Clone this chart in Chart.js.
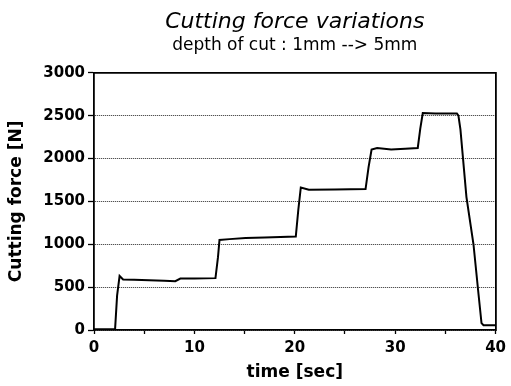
<!DOCTYPE html>
<html>
<head>
<meta charset="utf-8">
<script src="https://cdn.jsdelivr.net/npm/chart.js@4.4.1/dist/chart.umd.min.js"></script>
<style>
  html, body { margin: 0; padding: 0; background: #fff; }
  #wrap { width: 511px; height: 386px; }
</style>
</head>
<body>
<div id="wrap"><canvas id="forceChart" width="511" height="386"></canvas></div>
<script>
// values
const timeSec = [0, 1, 2.1, 2.3, 2.55, 2.9, 4, 5.5, 7, 8.1, 8.6, 10, 12.1, 12.35, 12.5, 13.5, 15.1, 17, 20.1, 20.35, 20.6, 21.4, 24, 27.05, 27.35, 27.65, 28.2, 29.6, 31, 32.25, 32.5, 32.75, 34, 35, 36.15, 36.3, 36.5, 37.1, 37.8, 38.3, 38.6, 38.8, 40];
const forceN = [10, 10, 10, 400, 630, 590, 585, 580, 575, 570, 600, 600, 605, 850, 1050, 1060, 1072, 1080, 1090, 1400, 1663, 1636, 1640, 1644, 1900, 2104, 2123, 2104, 2115, 2123, 2350, 2530, 2525, 2525, 2525, 2500, 2340, 1550, 1000, 420, 80, 55, 55];
const xTicks = [0, 10, 20, 30, 40];
const yTicks = [0, 500, 1000, 1500, 2000, 2500, 3000];

const points = timeSec.map((t, i) => ({ x: t, y: forceN[i] }));

Chart.defaults.color = '#000';
Chart.defaults.font.family = '"DejaVu Sans", sans-serif';

const ctx = document.getElementById('forceChart').getContext('2d');
let forceChart = new Chart(ctx, {
    type: 'scatter',
    data: {
        datasets: [
            {
                label: 'Cutting force',
                data: points,
                showLine: true,
                borderColor: '#000',
                borderWidth: 2,
                pointRadius: 0,
                tension: 0,
                fill: false,
            }
        ]
    },
    options: {
        responsive: false,
        animation: false,
        layout: { padding: { left: 0, right: 14, top: 0, bottom: 0 } },
        plugins: {
            legend: { display: false },
            tooltip: { enabled: false },
            title: {
                display: true,
                text: 'Cutting force variations',
                fullSize: false,
                font: { size: 22, style: 'italic', weight: 'normal', lineHeight: 1.2 },
                padding: { top: 9, bottom: 0 }
            },
            subtitle: {
                display: true,
                text: 'depth of cut : 1mm --> 5mm',
                fullSize: false,
                color: '#000',
                font: { size: 17, weight: 'normal', lineHeight: 1.2 },
                padding: { top: 0, bottom: 17 }
            }
        },
        scales: {
            x: {
                type: 'linear',
                min: 0,
                max: 40,
                afterFit: s => { s.height = 56; },
                afterBuildTicks: s => {
                    s.ticks = [0, 5, 10, 15, 20, 25, 30, 35, 40].map(v => ({ value: v }));
                },
                ticks: {
                    autoSkip: false,
                    maxRotation: 0,
                    padding: 5,
                    font: { size: 15, weight: 'bold' },
                    callback: v => xTicks.includes(v) ? String(v) : ''
                },
                grid: { drawOnChartArea: false, tickLength: 4, tickColor: '#000', tickWidth: 1.3 },
                border: { color: '#000', width: 1.8 },
                title: {
                    display: true,
                    text: 'time [sec]',
                    font: { size: 17, weight: 'bold', lineHeight: 1.2 },
                    padding: { top: 0, bottom: 3 }
                }
            },
            x2: {
                type: 'linear',
                position: 'top',
                min: 0,
                max: 40,
                afterFit: s => { s.height = 0; },
                ticks: { display: false },
                grid: { drawOnChartArea: false, drawTicks: false },
                border: { color: '#000', width: 1.8 }
            },
            y: {
                type: 'linear',
                min: 0,
                max: 3000,
                afterFit: s => { s.width = 94; },
                afterBuildTicks: s => {
                    s.ticks = yTicks.map(v => ({ value: v }));
                },
                ticks: {
                    padding: 3,
                    font: { size: 15, weight: 'bold' },
                    callback: v => String(v)
                },
                grid: {
                    color: 'rgba(0,0,0,0.85)',
                    lineWidth: 1,
                    tickLength: 6,
                    tickColor: '#000',
                    tickWidth: 1.3,
                    tickBorderDash: []
                },
                border: { color: '#000', width: 1.8, dash: [1, 1] },
                title: {
                    display: true,
                    text: 'Cutting force [N]',
                    font: { size: 17, weight: 'bold', lineHeight: 1.2 },
                    padding: { top: 6, bottom: 0 }
                }
            },
            y2: {
                type: 'linear',
                position: 'right',
                min: 0,
                max: 3000,
                afterFit: s => { s.width = 0; },
                ticks: { display: false },
                grid: { drawOnChartArea: false, drawTicks: false },
                border: { color: '#000', width: 1.8 }
            }
        }
    }
});
</script>
</body>
</html>
